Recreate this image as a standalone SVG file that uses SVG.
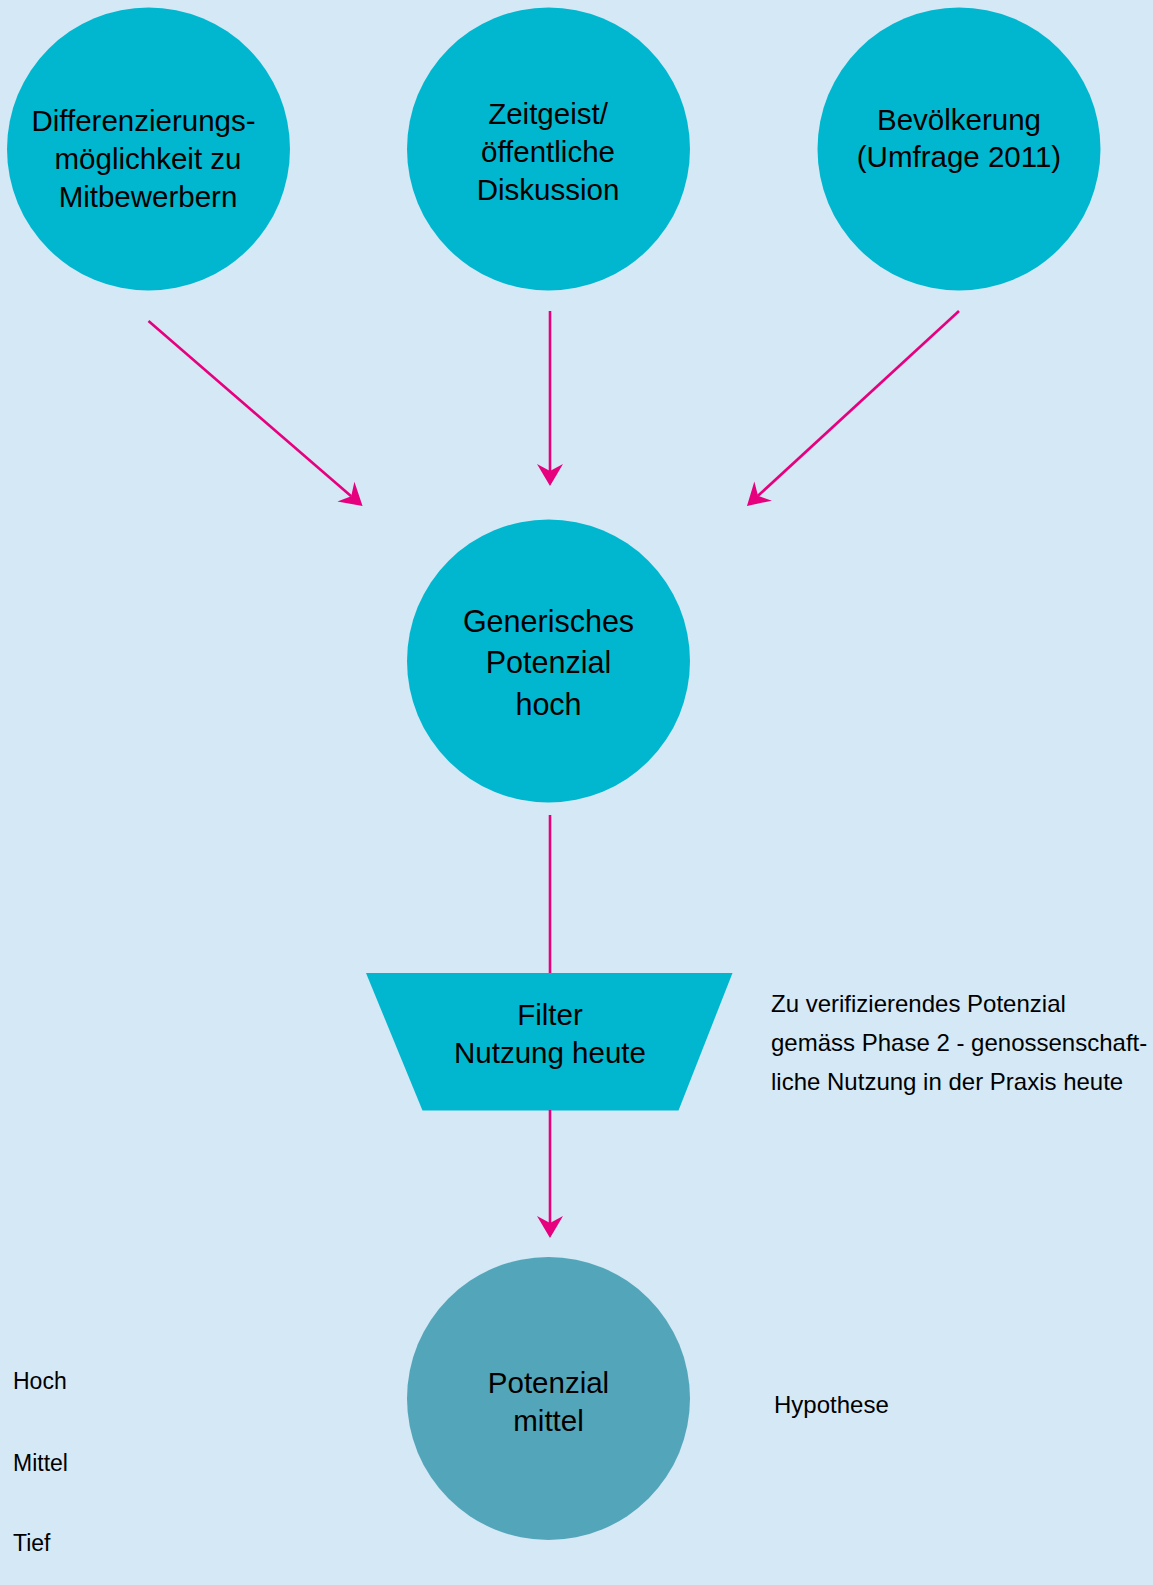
<svg xmlns="http://www.w3.org/2000/svg" width="1153" height="1585" viewBox="0 0 1153 1585">
<style>
.node{fill:#00b7cf}
.node2{fill:#53a6b9}
.t{font-family:"Liberation Sans",Arial,sans-serif;fill:#000;text-anchor:middle}
.big{font-size:29.5px}
.gen{font-size:30.5px}
.side{font-family:"Liberation Sans",Arial,sans-serif;fill:#000;font-size:24px}
.conn{stroke:#e6007e;stroke-width:2.6;fill:none}
</style>
<defs>
<marker id="ah" markerUnits="userSpaceOnUse" markerWidth="40" markerHeight="40" refX="0" refY="0" orient="auto" overflow="visible" viewBox="-20 -20 40 40">
<path d="M15,0 L-7,-13 L0,0 L-7,13 Z" fill="#e6007e"/>
</marker>
</defs>
<rect width="1153" height="1585" fill="#d4e8f6"/>

<g id="n-diff">
<circle class="node" cx="148.5" cy="149" r="141.5"/>
<text class="t big" x="143.5" y="131">Differenzierungs-</text>
<text class="t big" x="148" y="168.5">möglichkeit zu</text>
<text class="t big" x="148" y="207">Mitbewerbern</text>
</g>
<g id="n-zeit">
<circle class="node" cx="548.5" cy="149" r="141.5"/>
<text class="t big" x="548" y="123.5">Zeitgeist/</text>
<text class="t big" x="548" y="162">öffentliche</text>
<text class="t big" x="548" y="200">Diskussion</text>
</g>
<g id="n-bev">
<circle class="node" cx="959" cy="149" r="141.5"/>
<text class="t big" x="959" y="130">Bevölkerung</text>
<text class="t big" x="959" y="167">(Umfrage 2011)</text>
</g>
<g id="n-gen">
<circle class="node" cx="548.5" cy="661" r="141.5"/>
<text class="t gen" x="548.5" y="631.5">Generisches</text>
<text class="t gen" x="548.5" y="673">Potenzial</text>
<text class="t gen" x="548.5" y="714.5">hoch</text>
</g>
<g id="n-filter">
<polygon class="node" points="366,973 732.5,973 678.5,1110.5 422.5,1110.5"/>
<text class="t big" x="550" y="1025">Filter</text>
<text class="t big" x="550" y="1063">Nutzung heute</text>
</g>
<g id="n-mittel">
<circle class="node2" cx="548.5" cy="1398.5" r="141.5"/>
<text class="t big" x="548.5" y="1393">Potenzial</text>
<text class="t big" x="548.5" y="1431">mittel</text>
</g>

<g id="connectors">
<line class="conn" x1="148.5" y1="321" x2="351.2" y2="496.2" marker-end="url(#ah)"/>
<line class="conn" x1="550" y1="311" x2="550" y2="471" marker-end="url(#ah)"/>
<line class="conn" x1="959" y1="311" x2="758" y2="495.8" marker-end="url(#ah)"/>
<line class="conn" x1="550" y1="815" x2="550" y2="973"/>
<line class="conn" x1="550" y1="1110" x2="550" y2="1223" marker-end="url(#ah)"/>
</g>

<g id="labels">
<text class="side" x="771" y="1011.5">Zu verifizierendes Potenzial</text>
<text class="side" x="771" y="1051">gemäss Phase 2 - genossenschaft-</text>
<text class="side" x="771" y="1090">liche Nutzung in der Praxis heute</text>
<text class="side" x="774" y="1412.5">Hypothese</text>
<text class="side" x="13" y="1389" style="font-size:23px">Hoch</text>
<text class="side" x="13" y="1470.5" style="font-size:23px">Mittel</text>
<text class="side" x="13" y="1550.5" style="font-size:23px">Tief</text>
</g>
</svg>
